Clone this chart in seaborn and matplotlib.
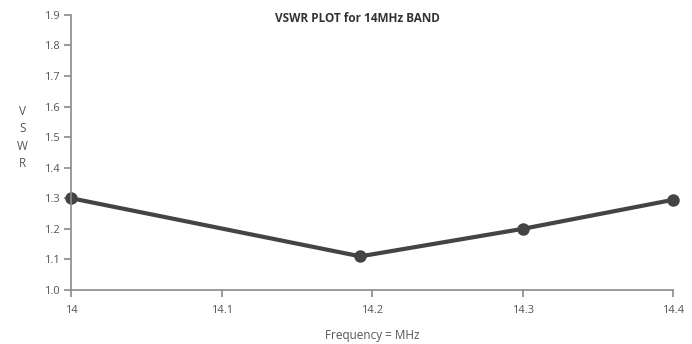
import numpy as np
import pandas as pd
import matplotlib
matplotlib.use("Agg")
import matplotlib.pyplot as plt
import seaborn as sns

# readings
freq_mhz = [14.0, 14.192, 14.3, 14.4]
vswr = [1.30, 1.11, 1.20, 1.295]
x_ticks = [14.0, 14.1, 14.2, 14.3, 14.4]
x_tick_labels = ["14", "14.1", "14.2", "14.3", "14.4"]
y_ticks = [1.0, 1.1, 1.2, 1.3, 1.4, 1.5, 1.6, 1.7, 1.8, 1.9]

df = pd.DataFrame({"freq": freq_mhz, "vswr": vswr})

sns.set_style("ticks")
plt.rcParams["font.family"] = ["Open Sans", "DejaVu Sans"]

grey = "#8a8a8a"
fig = plt.figure(figsize=(6.92, 3.44), dpi=100)
ax = fig.add_axes([0.103, 0.157, 0.870, 0.800])

sns.lineplot(data=df, x="freq", y="vswr", ax=ax, color="#444444", linewidth=3,
             marker="o", markersize=9, markeredgewidth=0, clip_on=False)

ax.set_xlim(14.0, 14.4)
ax.set_ylim(1.0, 1.9)
ax.set_xticks(x_ticks)
ax.set_xticklabels(x_tick_labels)
ax.set_yticks(y_ticks)
ax.set_yticklabels([f"{v:.1f}" for v in y_ticks])
sns.despine(ax=ax)
for s in ["left", "bottom"]:
    ax.spines[s].set_color(grey)
    ax.spines[s].set_linewidth(1.2)
ax.tick_params(colors=grey, labelcolor="#555555", labelsize=8, length=5, width=1.2)
ax.tick_params(axis="x", pad=6)

ax.set_xlabel("Frequency = MHz", fontsize=8.5, color="#555555", labelpad=9)
ax.set_ylabel("")
fig.text(0.032, 0.60, "V\nS\nW\nR", fontsize=8.5, color="#555555", ha="center",
         va="center", linespacing=1.45)
ax.text(0.475, 0.985, "VSWR PLOT for 14MHz BAND", transform=ax.transAxes, ha="center",
        va="center", fontsize=8.5, fontweight="bold", color="#333333")

fig.savefig("out.png", dpi=100)
